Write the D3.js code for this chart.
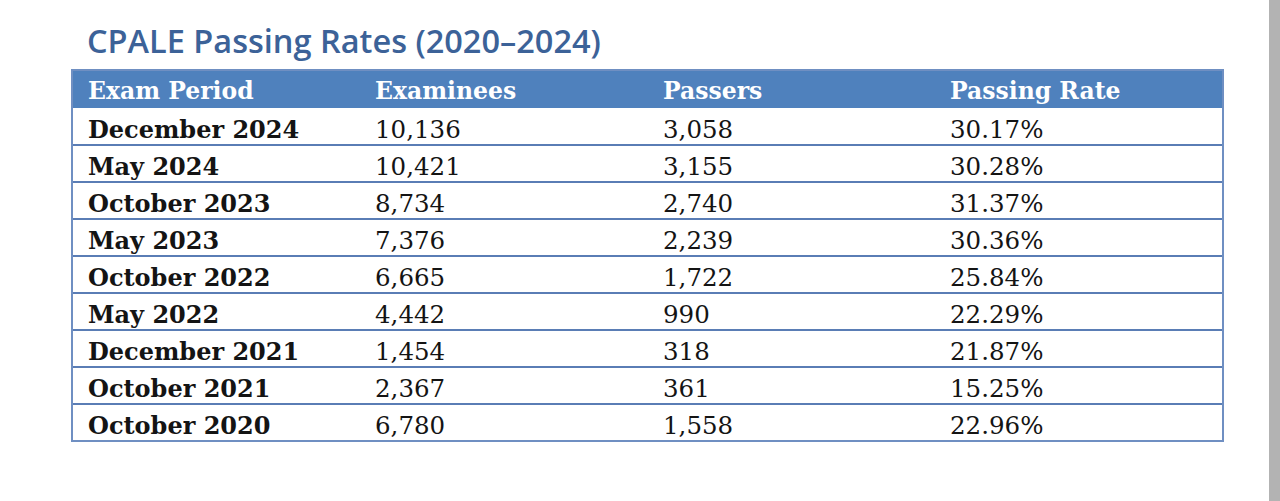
<!DOCTYPE html>
<meta charset="utf-8">
<script src="https://d3js.org/d3.v7.min.js"></script>
<style>
  body { margin: 0; background: #fff; overflow: hidden; }
</style>
<div id="my_dataviz"></div>
<script>

  // table content
  var columns = ["Exam Period", "Examinees", "Passers", "Passing Rate"];
  var periods = ["December 2024", "May 2024", "October 2023", "May 2023", "October 2022",
    "May 2022", "December 2021", "October 2021", "October 2020"];
  var examinees = ["10,136", "10,421", "8,734", "7,376", "6,665", "4,442", "1,454", "2,367", "6,780"];
  var passers = ["3,058", "3,155", "2,740", "2,239", "1,722", "990", "318", "361", "1,558"];
  var rates = ["30.17%", "30.28%", "31.37%", "30.36%", "25.84%", "22.29%", "21.87%", "15.25%", "22.96%"];
  var title = "CPALE Passing Rates (2020\u20132024)";

  var width = 1280, height = 501;
  var tLeft = 72, tRight = 1223, tTop = 70, headH = 38, rowH = 37;
  var blue = "#4f81bd", sepColor = "#5a7db5";

  var svg = d3.select("#my_dataviz")
    .append("svg")
    .attr("width", width)
    .attr("height", height);

  // grey strip on right edge of the screenshot
  svg.append("rect")
    .attr("x", 1269).attr("y", 0).attr("width", 11).attr("height", height)
    .attr("fill", "#b3b3b3");

  svg.append("text")
    .attr("x", 87).attr("y", 53)
    .attr("font-family", "Open Sans")
    .attr("font-weight", 600)
    .attr("font-size", 32.5)
    .attr("fill", "#3c6298")
    .text(title);

  // column text offsets
  var colX = d3.scaleOrdinal()
    .domain(columns)
    .range([88, 375, 663, 950]);
  var y = d3.scaleBand()
    .domain(d3.range(periods.length))
    .range([tTop + headH, tTop + headH + rowH * periods.length]);

  var rows = periods.map(function (p, i) {
    return [p, examinees[i], passers[i], rates[i]];
  });

  // header
  svg.append("rect")
    .attr("x", tLeft).attr("y", tTop)
    .attr("width", tRight - tLeft).attr("height", headH)
    .attr("fill", blue);

  svg.selectAll(".head")
    .data(columns)
    .enter().append("text")
    .attr("class", "head")
    .attr("x", function (d) { return colX(d); })
    .attr("y", tTop + headH - 9)
    .attr("font-family", "DejaVu Serif")
    .attr("font-weight", "bold")
    .attr("font-size", 23.5)
    .attr("fill", "#fff")
    .text(function (d) { return d; });

  // row separators
  svg.selectAll(".sep")
    .data(d3.range(1, periods.length))
    .enter().append("line")
    .attr("x1", tLeft).attr("x2", tRight)
    .attr("y1", function (d) { return y(d); })
    .attr("y2", function (d) { return y(d); })
    .attr("stroke", sepColor)
    .attr("stroke-width", 2);

  // outer border
  svg.append("rect")
    .attr("x", tLeft).attr("y", tTop)
    .attr("width", tRight - tLeft)
    .attr("height", headH + rowH * periods.length)
    .attr("fill", "none")
    .attr("stroke", "#6f8fc2")
    .attr("stroke-width", 2);

  // cells
  var g = svg.selectAll(".row")
    .data(rows)
    .enter().append("g")
    .attr("class", "row")
    .attr("transform", function (d, i) { return "translate(0," + (y(i) + rowH - 7) + ")"; });

  g.selectAll("text")
    .data(function (d) { return d; })
    .enter().append("text")
    .attr("x", function (d, j) { return colX(columns[j]); })
    .attr("font-family", "DejaVu Serif")
    .attr("font-weight", function (d, j) { return j === 0 ? "bold" : "normal"; })
    .attr("font-size", function (d, j) { return j === 0 ? 24 : 24.5; })
    .attr("fill", "#141414")
    .text(function (d) { return d; });

</script>
